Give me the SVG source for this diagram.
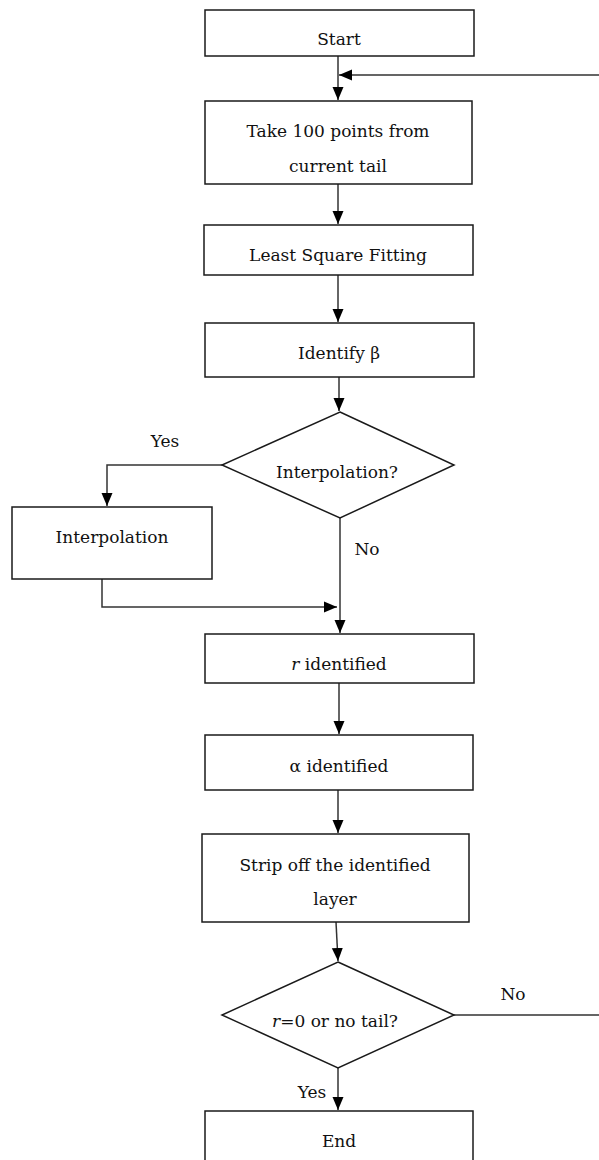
<svg xmlns="http://www.w3.org/2000/svg" width="599" height="1160" viewBox="0 0 599 1160">
<style>
.box{fill:#fff;stroke:#1a1a1a;stroke-width:1.5}
.t{font-family:"DejaVu Serif","Liberation Serif",serif;font-size:17px;fill:#111;text-anchor:middle}
.c{fill:none;stroke:#333;stroke-width:1.5}
</style>
<defs>
<marker id="ah" markerUnits="userSpaceOnUse" markerWidth="13" markerHeight="12" viewBox="0 0 13 12" refX="13" refY="6" orient="auto">
<path d="M0,0.5 L13,6 L0,11.5 Z" fill="#000"/>
</marker>
</defs>
<rect width="599" height="1160" fill="#fff"/>
<g id="connectors">
<path class="c" d="M338,56 V100" marker-end="url(#ah)"/>
<path class="c" d="M454,1015 H601 V75 H339" marker-end="url(#ah)"/>
<path class="c" d="M338,184 V224" marker-end="url(#ah)"/>
<path class="c" d="M338,275 V322" marker-end="url(#ah)"/>
<path class="c" d="M339,377 V411" marker-end="url(#ah)"/>
<path class="c" d="M222,465 H107 V506" marker-end="url(#ah)"/>
<path class="c" d="M340,518 V633" marker-end="url(#ah)"/>
<path class="c" d="M102,579 V607 H337" marker-end="url(#ah)"/>
<path class="c" d="M339,683 V734" marker-end="url(#ah)"/>
<path class="c" d="M338,790 V833" marker-end="url(#ah)"/>
<path class="c" d="M336,922 L338,961" marker-end="url(#ah)"/>
<path class="c" d="M338,1068 V1110" marker-end="url(#ah)"/>
</g>
<g id="start"><rect class="box" x="205" y="10" width="269" height="46"/><text class="t" x="339" y="45">Start</text></g>
<g id="take"><rect class="box" x="205" y="101" width="267" height="83"/><text class="t" x="338" y="137">Take 100 points from</text><text class="t" x="338" y="172">current tail</text></g>
<g id="lsf"><rect class="box" x="204" y="225" width="269" height="50"/><text class="t" x="338" y="261">Least Square Fitting</text></g>
<g id="beta"><rect class="box" x="205" y="323" width="269" height="54"/><text class="t" x="339" y="359">Identify β</text></g>
<g id="dec1"><polygon class="box" points="340,412 454,465 340,518 222,465"/><text class="t" x="337" y="478">Interpolation?</text></g>
<g id="yes1"><text class="t" x="165" y="447">Yes</text></g>
<g id="interp"><rect class="box" x="12" y="507" width="200" height="72"/><text class="t" x="112" y="543">Interpolation</text></g>
<g id="no1"><text class="t" x="367" y="555">No</text></g>
<g id="r"><rect class="box" x="205" y="634" width="269" height="49"/><text class="t" x="339" y="670"><tspan font-style="italic">r</tspan> identified</text></g>
<g id="alpha"><rect class="box" x="205" y="735" width="268" height="55"/><text class="t" x="339" y="772">α identified</text></g>
<g id="strip"><rect class="box" x="202" y="834" width="267" height="88"/><text class="t" x="335" y="871">Strip off the identified</text><text class="t" x="335" y="905">layer</text></g>
<g id="dec2"><polygon class="box" points="338,962 454,1015 338,1068 222,1015"/><text class="t" x="335" y="1027"><tspan font-style="italic">r</tspan>=0 or no tail?</text></g>
<g id="no2"><text class="t" x="513" y="1000">No</text></g>
<g id="yes2"><text class="t" x="312" y="1098">Yes</text></g>
<g id="end"><rect class="box" x="205" y="1111" width="268" height="60"/><text class="t" x="339" y="1147">End</text></g>
</svg>
